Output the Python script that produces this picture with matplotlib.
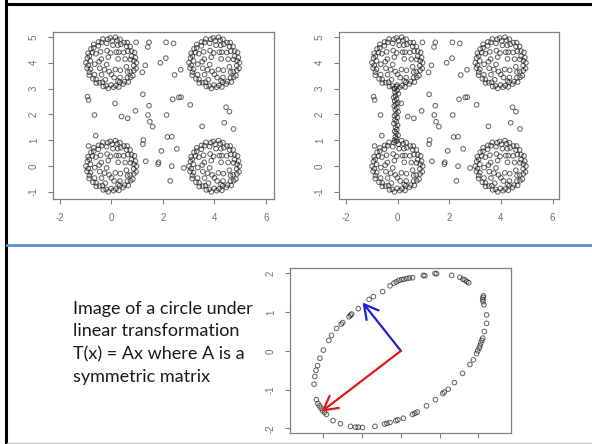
import numpy as np
import matplotlib
matplotlib.use("Agg")
import matplotlib.pyplot as plt
from matplotlib.lines import Line2D

plt.rcParams["font.family"] = ["Liberation Sans", "DejaVu Sans"]
plt.rcParams["axes.unicode_minus"] = False

# ---- data ----
# one cluster pattern (polar offsets: angle in degrees, radius), reused for the four blobs
CLUSTER_ANG = [0, 5, 12, 18, 24, 30, 35, 41, 47, 52, 58, 63, 70, 76, 81, 88, 93, 99,
               104, 110, 116, 122, 128, 134, 140, 146, 152, 158, 163, 169, 175, 180,
               186, 192, 197, 203, 209, 215, 221, 227, 233, 239, 245, 251, 257, 263,
               269, 275, 281, 287, 293, 299, 305, 311, 317, 323, 329, 335, 341, 347, 353,
               15, 40, 65, 85, 110, 135, 160, 185, 205, 230, 255, 280, 300, 320, 345,
               30, 120, 200, 300, 70, 150, 250, 330, 95, 175, 270, 10, 225, 55, 290]
CLUSTER_RAD = [0.97, 0.88, 0.95, 0.82, 0.98, 0.90, 0.78, 0.96, 0.86, 0.99, 0.92, 0.80,
               0.97, 0.90, 1.00, 0.85, 0.96, 0.92, 0.78, 0.98, 0.88, 0.95, 0.83, 0.99,
               0.90, 0.96, 0.84, 0.98, 0.90, 0.95, 0.82, 0.99, 0.91, 0.97, 0.85, 0.93,
               0.99, 0.80, 0.95, 0.88, 0.98, 0.90, 0.83, 0.97, 0.92, 1.00, 0.86, 0.95,
               0.90, 0.98, 0.82, 0.94, 0.89, 0.99, 0.85, 0.93, 0.97, 0.80, 0.92, 0.98, 0.87,
               0.55, 0.62, 0.45, 0.68, 0.50, 0.60, 0.42, 0.65, 0.50, 0.60, 0.35, 0.58,
               0.66, 0.45, 0.60, 0.30, 0.25, 0.20, 0.30, 0.72, 0.70, 0.70, 0.72, 0.38,
               0.48, 0.45, 0.75, 0.38, 0.50, 0.75]
CENTERS_X = [0, 4, 0, 4]
CENTERS_Y = [4, 4, 0, 0]

# loose points between the blobs
NOISE_X = [0.96, 1.46, 1.41, 2.12, 2.41, 2.11, 1.90, 1.31, 1.20, 2.69, 2.45, 1.22,
           2.38, 2.62, 2.70, 3.06, -0.93, -0.89, -0.66, 0.14, 0.39, 0.63, 0.93, 1.46,
           1.42, 1.49, 1.60, 2.14, 2.17, 2.34, 3.52, 4.45, 4.58, 4.38, 4.74, -0.61,
           -0.89, 1.24, 1.22, 1.33, 1.83, 1.81, 1.94, 2.54, 2.34, 2.28, 2.81]
NOISE_Y = [4.79, 4.79, 4.61, 4.79, 4.75, 4.18, 4.00, 3.90, 3.63, 3.73, 3.53, 2.78,
           2.59, 2.66, 2.67, 2.37, 2.69, 2.56, 1.98, 2.43, 1.92, 1.85, 2.14, 2.34,
           1.98, 1.72, 1.53, 1.98, 1.13, 1.14, 1.54, 2.28, 2.11, 1.68, 1.44, 1.18,
           0.78, 1.01, 0.85, 0.19, 0.15, 0.08, 0.59, 0.67, 0.00, -0.57, -0.07]

# extra bridge of points in the second panel
BRIDGE_X = [-0.05, -0.12, -0.02, -0.10, 0.03, -0.08, -0.15, -0.04, -0.11, 0.01,
            -0.07, -0.13, -0.03, -0.09, 0.02, -0.06, -0.12, -0.01, -0.10, -0.05,
            -0.14, 0.00, -0.08, -0.03, -0.11, -0.06, 0.02, -0.09, -0.04, -0.12]
BRIDGE_Y = [3.08, 3.00, 2.93, 2.86, 2.80, 2.73, 2.66, 2.60, 2.52, 2.45, 2.40, 2.33,
            2.25, 2.18, 2.10, 2.02, 1.95, 1.88, 1.80, 1.72, 1.65, 1.58, 1.50, 1.42,
            1.35, 1.28, 1.20, 1.13, 1.06, 1.00]

# image of the circle (ellipse points) and the two eigen-arrows
ELLIPSE_X = [0.92, 0.88, 0.62, 0.58, 0.30, 0.22, 0.15, 0.08, 0.02, -0.05, -0.12, -0.18,
             -0.28, -0.47, -0.71, -0.82, -1.10, -1.27, -1.30, -1.34, -1.50, -1.54,
             -1.66, -1.79, -1.86, -2.00, -2.09, -2.15, -2.19, -2.22, -2.24, -2.18,
             -2.14, -2.10, -2.06, -2.02, -1.97, -1.92, -1.75, -1.56, -1.30, -1.17,
             -1.10, -0.99, -0.67, -0.42, -0.36, -0.28, -0.13, -0.08, 0.06, 0.30, 0.36,
             0.42, 0.66, 0.89, 1.08, 1.12, 1.22, 1.38, 1.59, 1.78, 1.87, 1.95, 1.98,
             2.02, 2.04, 2.06, 2.09, 2.11, 2.15, 2.21, 2.21, 2.14, 2.12, 2.11, 2.12,
             2.13, 1.75, 1.70, 1.65, 1.60, 1.52, 1.31]
ELLIPSE_Y = [1.99, 2.00, 1.94, 1.95, 1.89, 1.88, 1.87, 1.85, 1.84, 1.82, 1.78, 1.75,
             1.68, 1.53, 1.40, 1.33, 1.09, 0.95, 0.92, 0.88, 0.73, 0.69, 0.58, 0.40,
             0.27, 0.02, -0.19, -0.38, -0.50, -0.66, -0.86, -1.26, -1.36, -1.42,
             -1.48, -1.54, -1.59, -1.64, -1.80, -1.88, -1.95, -1.97, -1.97, -1.98,
             -1.95, -1.89, -1.87, -1.85, -1.80, -1.78, -1.74, -1.64, -1.61, -1.58,
             -1.42, -1.26, -1.10, -1.06, -0.99, -0.82, -0.58, -0.35, -0.23, -0.07,
             0.00, 0.07, 0.13, 0.20, 0.27, 0.33, 0.50, 0.71, 0.93, 1.19, 1.27, 1.33,
             1.38, 1.42, 1.76, 1.79, 1.83, 1.85, 1.90, 1.95]
BLUE_TIP = (-0.99, 1.25)
RED_TIP = (-2.05, -1.57)

TOP_XTICKS = [-2, 0, 2, 4, 6]
TOP_YTICKS = [-1, 0, 1, 2, 3, 4, 5]
LOW_TICKS = [-2, -1, 0, 1, 2]

CAPTION = "Image of a circle under\nlinear transformation\nT(x) = Ax where A is a\nsymmetric matrix"

GREY = "#808080"
PT_EDGE = (0.1, 0.1, 0.1, 0.65)


def r_style(ax, xticks, yticks, xlabels=True):
    for s in ax.spines.values():
        s.set_color(GREY)
        s.set_linewidth(0.9)
    ax.set_xticks(xticks)
    ax.set_yticks(yticks)
    ax.tick_params(direction="out", length=3.6, width=0.8, color=GREY,
                   labelcolor="#707070", labelsize=7, pad=6.5)
    for lab in ax.get_yticklabels():
        lab.set_rotation(90)
        lab.set_verticalalignment("center")
    if not xlabels:
        ax.set_xticklabels([])


def points(ax, x, y):
    ax.scatter(x, y, s=11, facecolors="none", edgecolors=PT_EDGE, linewidths=0.75)


fig = plt.figure(figsize=(5.92, 4.44), dpi=100)

ang = np.radians(CLUSTER_ANG)
off_x = np.array(CLUSTER_RAD) * np.cos(ang)
off_y = np.array(CLUSTER_RAD) * np.sin(ang)
blob_x = np.concatenate([cx + off_x for cx in CENTERS_X])
blob_y = np.concatenate([cy + off_y for cy in CENTERS_Y])

# top-left panel
ax1 = fig.add_axes([0.0895, 0.5518, 0.3733, 0.3761])
points(ax1, np.concatenate([blob_x, NOISE_X]), np.concatenate([blob_y, NOISE_Y]))
ax1.set_xlim(-2.27, 6.31)
ax1.set_ylim(-1.27, 5.19)
r_style(ax1, TOP_XTICKS, TOP_YTICKS)

# top-right panel, same data plus the bridge
ax2 = fig.add_axes([0.5726, 0.5518, 0.3716, 0.3761])
points(ax2, np.concatenate([blob_x, NOISE_X, BRIDGE_X]),
       np.concatenate([blob_y, NOISE_Y, BRIDGE_Y]))
ax2.set_xlim(-2.27, 6.25)
ax2.set_ylim(-1.27, 5.19)
r_style(ax2, TOP_XTICKS, TOP_YTICKS)

# bottom panel: ellipse with eigenvectors
ax3 = fig.add_axes([0.4899, 0.0248, 0.3733, 0.3716])
points(ax3, ELLIPSE_X, ELLIPSE_Y)
for tip, col in [(BLUE_TIP, "#1f1fd0"), (RED_TIP, "#e01818")]:
    ax3.annotate("", xy=tip, xytext=(0, 0),
                 arrowprops=dict(arrowstyle="->,head_length=1.0,head_width=0.55",
                                 color=col, lw=1.6, shrinkA=0, shrinkB=0))
ax3.set_xlim(-2.86, 2.84)
ax3.set_ylim(-2.12, 2.14)
r_style(ax3, LOW_TICKS, LOW_TICKS, xlabels=False)

fig.text(73 / 592, 1 - 301 / 444, CAPTION, fontsize=13, family="Lato",
         color="#1a1a1a", va="top", ha="left", linespacing=1.5)

# slide frame and divider
fig.add_artist(Line2D([6 / 592, 6 / 592], [0, 1], color="black", lw=2.2))
fig.add_artist(Line2D([6 / 592, 1], [1 - 4.5 / 444] * 2, color="black", lw=2.2))
fig.add_artist(Line2D([7 / 592, 1], [1 - 244.7 / 444] * 2, color="#5b8fd0", lw=2.0))
fig.add_artist(Line2D([7 / 592, 1], [1 - 442.5 / 444] * 2, color="#c8c8c8", lw=0.8))

fig.savefig("out.png", dpi=100)
